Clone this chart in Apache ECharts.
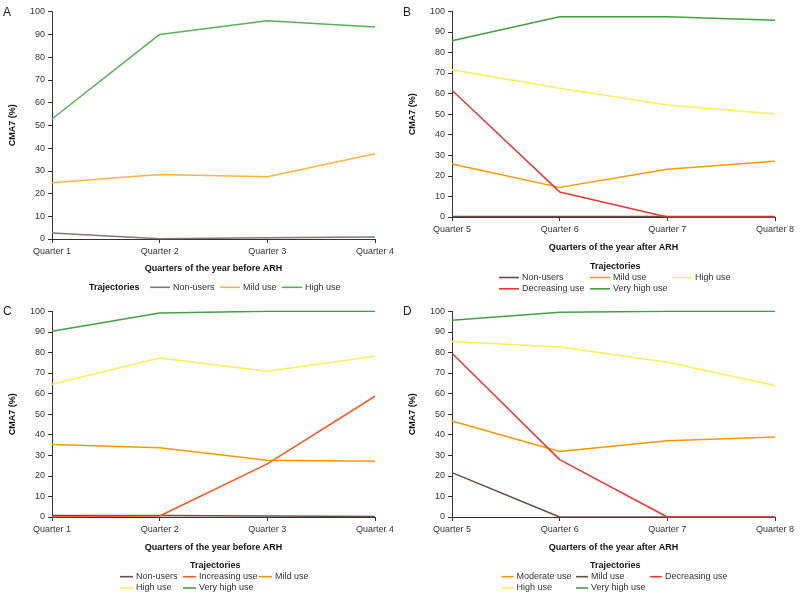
<!DOCTYPE html>
<html>
<head>
<meta charset="utf-8">
<script src="https://cdn.jsdelivr.net/npm/echarts@6/dist/echarts.min.js"></script>
<style>html,body{margin:0;padding:0;background:#fff}#c{width:800px;height:598px}</style>
</head>
<body>
<div id="c"></div>
<script>
// ---- Data ----
const quartersBefore = ['Quarter 1', 'Quarter 2', 'Quarter 3', 'Quarter 4'];
const quartersAfter = ['Quarter 5', 'Quarter 6', 'Quarter 7', 'Quarter 8'];
const yTicks = [0, 10, 20, 30, 40, 50, 60, 70, 80, 90, 100];

// Panel A
const aNonUsers = [2.6, 0.1, 0.6, 0.9];
const aMildUse = [24.8, 28.4, 27.4, 37.5];
const aHighUse = [52.8, 90.0, 96.0, 93.3];

// Panel B
const bNonUsers = [0.2, 0.2, 0.2, 0.2];
const bMildUse = [25.8, 14.4, 23.2, 27.1];
const bHighUse = [71.6, 62.6, 54.5, 50.1];
const bDecreasingUse = [61.6, 12.2, 0, 0];
const bVeryHighUse = [85.7, 97.4, 97.4, 95.6];

// Panel C
const cNonUsers = [0.7, 0.7, 0.5, 0.3];
const cIncreasingUse = [0.1, 0.5, 25.8, 58.7];
const cMildUse = [35.3, 33.7, 27.6, 27.1];
const cHighUse = [64.5, 77.3, 70.8, 78.1];
const cVeryHighUse = [90.3, 99.2, 100, 100];

// Panel D
const dModerateUse = [46.7, 31.8, 37.1, 38.9];
const dMildUse = [21.6, 0, 0, 0];
const dDecreasingUse = [79.6, 27.9, 0, 0];
const dHighUse = [85.3, 82.7, 75.2, 63.9];
const dVeryHighUse = [95.6, 99.5, 100, 100];

// ---- Styling ----
const FONT = '"Liberation Sans", Arial, Helvetica, sans-serif';
const AX = '#333';
const COL = {
  brownA: '#8a7470', orangeA: '#ffb340', greenA: '#55b255',
  brown: '#6d4c41', orange: '#ff9800', yellow: '#ffee58', red: '#e53935',
  green: '#43a047', redOrange: '#ff5722'
};

const grids = [
  { left: 52, top: 11.7, width: 323, height: 227.3 },
  { left: 452, top: 11.3, width: 323, height: 205.7 },
  { left: 52, top: 311.3, width: 323, height: 205.7 },
  { left: 452, top: 311.3, width: 323, height: 205.7 }
];

function xAxisFor(i, cats, title, gap) {
  return {
    type: 'category', gridIndex: i, data: cats, boundaryGap: false,
    axisLine: { show: true, lineStyle: { color: AX, width: 1 } },
    axisTick: { show: true, length: 4, lineStyle: { color: AX } },
    axisLabel: { color: AX, fontSize: 9, fontFamily: FONT, margin: 8 },
    splitLine: { show: false },
    name: title, nameLocation: 'middle', nameGap: gap,
    nameTextStyle: { color: '#111', fontSize: 9, fontWeight: 'bold', fontFamily: FONT }
  };
}
function yAxisFor(i) {
  return {
    type: 'value', gridIndex: i, min: 0, max: 100, interval: 10,
    axisLine: { show: true, lineStyle: { color: AX, width: 1 } },
    axisTick: { show: true, length: 4, lineStyle: { color: AX } },
    axisLabel: { color: AX, fontSize: 9, fontFamily: FONT, margin: 7 },
    splitLine: { show: false },
    name: 'CMA7 (%)', nameLocation: 'middle', nameGap: 35,
    nameTextStyle: { color: '#111', fontSize: 9, fontWeight: 'bold', fontFamily: FONT }
  };
}

const series = [];
function addSeries(panel, idx, name, data, color) {
  series.push({
    type: 'line', name: panel + ':' + name, xAxisIndex: idx, yAxisIndex: idx,
    data: data, symbol: 'none', showSymbol: false, silent: true,
    lineStyle: { color: color, width: 1.5 }, itemStyle: { color: color },
    animation: false
  });
}
addSeries('A', 0, 'Non-users', aNonUsers, COL.brownA);
addSeries('A', 0, 'Mild use', aMildUse, COL.orangeA);
addSeries('A', 0, 'High use', aHighUse, COL.greenA);

addSeries('B', 1, 'Non-users', bNonUsers, COL.brown);
addSeries('B', 1, 'Mild use', bMildUse, COL.orange);
addSeries('B', 1, 'High use', bHighUse, COL.yellow);
addSeries('B', 1, 'Decreasing use', bDecreasingUse, COL.red);
addSeries('B', 1, 'Very high use', bVeryHighUse, COL.green);

addSeries('C', 2, 'Non-users', cNonUsers, COL.brown);
addSeries('C', 2, 'Increasing use', cIncreasingUse, COL.redOrange);
addSeries('C', 2, 'Mild use', cMildUse, COL.orange);
addSeries('C', 2, 'High use', cHighUse, COL.yellow);
addSeries('C', 2, 'Very high use', cVeryHighUse, COL.green);

addSeries('D', 3, 'Moderate use', dModerateUse, COL.orange);
addSeries('D', 3, 'Mild use', dMildUse, COL.brown);
addSeries('D', 3, 'Decreasing use', dDecreasingUse, COL.red);
addSeries('D', 3, 'High use', dHighUse, COL.yellow);
addSeries('D', 3, 'Very high use', dVeryHighUse, COL.green);

// legend items: [seriesName, left, rowCenterY, keyWidth]
const legendItems = [
  ['A:Non-users', 150, 288.3, 20], ['A:Mild use', 220, 288.3, 20], ['A:High use', 282, 288.3, 20],
  ['B:Non-users', 499, 278.5, 20], ['B:Mild use', 590, 278.5, 20], ['B:High use', 672, 278.5, 20],
  ['B:Decreasing use', 499, 289.8, 20], ['B:Very high use', 590, 289.8, 20],
  ['C:Non-users', 120, 577.7, 13], ['C:Increasing use', 183, 577.7, 13], ['C:Mild use', 259, 577.7, 13],
  ['C:High use', 120, 589, 13], ['C:Very high use', 183, 589, 13],
  ['D:Moderate use', 501.5, 577.7, 12], ['D:Mild use', 576, 577.7, 12], ['D:Decreasing use', 650, 577.7, 12],
  ['D:High use', 501.5, 589, 12], ['D:Very high use', 576, 589, 12]
];
const legends = legendItems.map(([n, l, cy, w]) => ({
  data: [{ name: n, icon: 'rect' }], left: l, top: cy - 5.5, padding: 0, itemWidth: w, itemHeight: 1.6,
  itemGap: 0, selectedMode: false,
  formatter: (name) => name.split(':')[1],
  textStyle: { color: '#333', fontSize: 9, fontFamily: FONT, padding: [0, 0, 0, -2] }
}));

const titles = [
  { text: 'A', left: 3, top: 6.5 }, { text: 'B', left: 403, top: 6.5 },
  { text: 'C', left: 3, top: 306 }, { text: 'D', left: 403, top: 306 }
].map(t => Object.assign(t, { padding: 0, textStyle: { color: '#222', fontSize: 12, fontWeight: 'normal', fontFamily: FONT } }));
[
  [89, 288.3], [590, 267.5], [190, 566.7], [590, 566.7]
].forEach(([l, cy]) => titles.push({
  text: 'Trajectories', left: l, top: cy - 5.5, padding: 0,
  textStyle: { color: '#111', fontSize: 9, fontWeight: 'bold', fontFamily: FONT }
}));

const chart = echarts.init(document.getElementById('c'), null, { renderer: 'canvas' });
chart.setOption({
  animation: false,
  backgroundColor: '#fff',
  title: titles,
  legend: legends,
  grid: grids,
  xAxis: [
    xAxisFor(0, quartersBefore, 'Quarters of the year before ARH', 25),
    xAxisFor(1, quartersAfter, 'Quarters of the year after ARH', 26.5),
    xAxisFor(2, quartersBefore, 'Quarters of the year before ARH', 26.5),
    xAxisFor(3, quartersAfter, 'Quarters of the year after ARH', 26.5)
  ],
  yAxis: [yAxisFor(0), yAxisFor(1), yAxisFor(2), yAxisFor(3)],
  series: series
});
</script>
</body>
</html>
